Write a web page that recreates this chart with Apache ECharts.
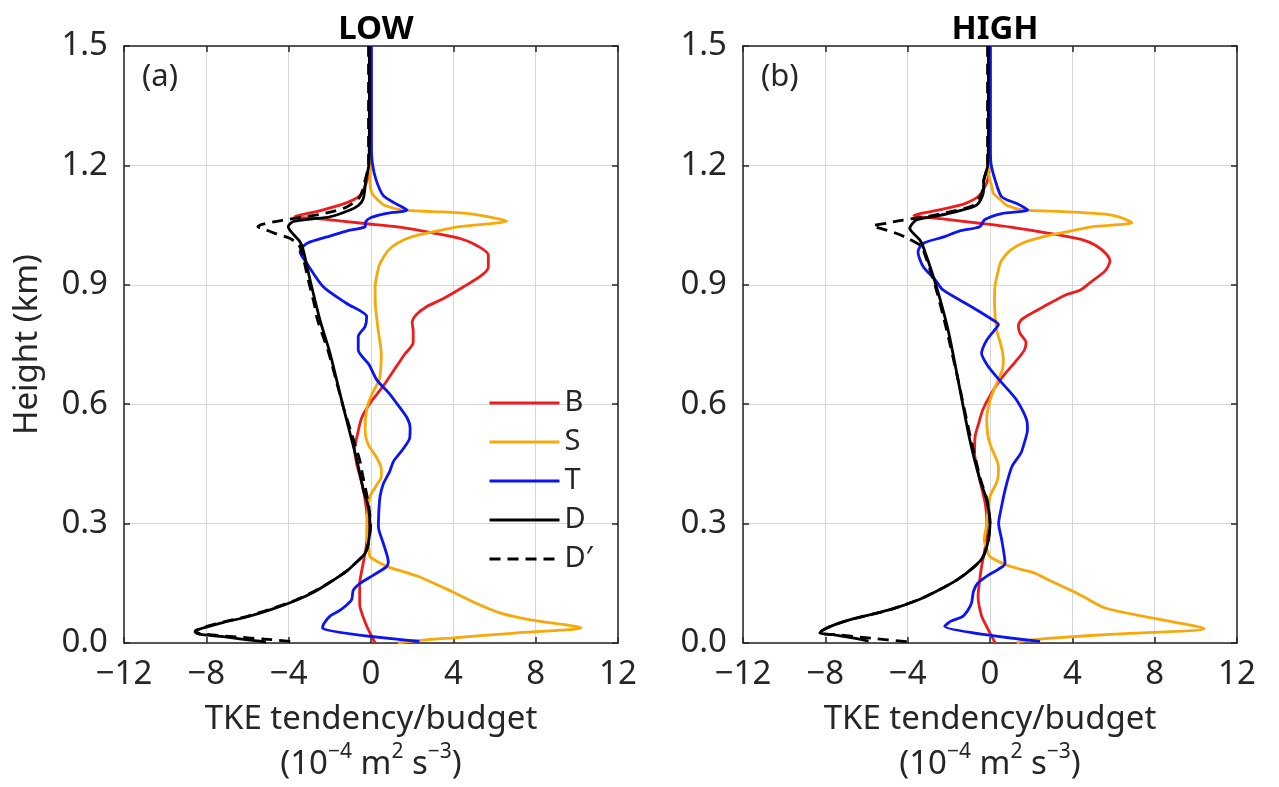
<!DOCTYPE html>
<html>
<head>
<meta charset="utf-8">
<script src="https://cdn.jsdelivr.net/npm/echarts@6/dist/echarts.min.js"></script>
<style>html,body{margin:0;padding:0;background:#fff;}#c{width:1279px;height:787px;}</style>
</head>
<body>
<div id="c"></div>
<script>
// ---------- DATA (heights in km, values in 1e-4 m2 s-3) ----------
const panelTitles = ['LOW', 'HIGH'];
const panelLabels = ['(a)', '(b)'];
const seriesNames = ['B', 'S', 'T', 'D', 'D\u2032'];
const xTicks = [-12, -8, -4, 0, 4, 8, 12];
const yTicks = [0.0, 0.3, 0.6, 0.9, 1.2, 1.5];

// LOW panel
const lowB_h = [1.5,1.3,1.22,1.194,1.16,1.124,1.104,1.084,1.072,1.065,1.054,1.045,1.03,1.015,0.997,0.975,0.945,0.925,0.895,0.865,0.845,0.825,0.805,0.785,0.755,0.725,0.686,0.646,0.606,0.566,0.526,0.486,0.447,0.397,0.347,0.297,0.247,0.197,0.148,0.098,0.048,0.0];
const lowB_x = [0.0,0.0,-0.02,-0.05,-0.2,-0.55,-1.3,-2.65,-3.7,-2.3,-0.3,1.38,3.05,4.4,5.2,5.7,5.7,5.4,4.5,3.5,2.7,2.2,2.0,2.05,2.05,1.63,1.12,0.6,0.0,-0.45,-0.65,-0.8,-0.68,-0.42,-0.25,-0.17,-0.22,-0.39,-0.55,-0.55,-0.25,0.2];

const lowS_h = [1.5,1.25,1.2,1.163,1.13,1.11,1.1,1.088,1.084,1.08,1.072,1.06,1.046,1.035,1.021,1.005,0.987,0.96,0.946,0.895,0.845,0.786,0.725,0.694,0.661,0.626,0.59,0.535,0.5,0.468,0.437,0.418,0.395,0.368,0.32,0.267,0.237,0.217,0.205,0.19,0.167,0.13,0.1,0.075,0.058,0.038,0.025,0.013,0.005,0.0];
const lowS_x = [0.0,0.0,-0.02,-0.05,0.05,0.4,0.65,1.5,3.0,4.5,5.6,6.6,4.3,3.2,2.0,1.3,0.85,0.5,0.38,0.2,0.22,0.35,0.5,0.48,0.4,0.05,-0.2,-0.29,-0.15,0.25,0.5,0.5,0.25,-0.05,-0.18,-0.21,-0.1,-0.05,0.3,0.9,2.3,3.9,5.1,6.3,7.75,10.2,7.0,4.0,2.0,1.3];

const lowT_h = [1.5,1.25,1.204,1.163,1.124,1.104,1.088,1.079,1.069,1.059,1.046,1.035,1.025,1.004,0.983,0.954,0.895,0.853,0.82,0.795,0.77,0.736,0.7,0.661,0.626,0.602,0.566,0.54,0.515,0.486,0.457,0.43,0.4,0.368,0.33,0.292,0.25,0.204,0.192,0.17,0.15,0.133,0.108,0.083,0.068,0.048,0.037,0.004];
const lowT_x = [0.02,0.02,0.07,0.25,0.6,1.2,1.75,0.7,0.0,-0.25,-0.29,-1.2,-1.83,-3.12,-3.45,-3.12,-2.32,-1.18,-0.21,-0.29,-0.62,-0.62,-0.1,0.28,0.9,1.25,1.75,1.9,1.88,1.54,1.1,0.9,0.6,0.44,0.38,0.36,0.6,0.84,0.76,0.1,-0.53,-0.86,-0.95,-1.48,-1.98,-2.3,-2.35,2.35];

const lowD_h = [1.5,1.3,1.204,1.163,1.117,1.1,1.088,1.071,1.065,1.059,1.046,1.008,0.987,0.912,0.812,0.728,0.661,0.594,0.527,0.46,0.384,0.342,0.292,0.25,0.225,0.204,0.18,0.158,0.13,0.108,0.085,0.066,0.05,0.04,0.032,0.026,0.021,0.015,0.008,0.003];
const lowD_x = [-0.08,-0.08,-0.1,-0.25,-0.37,-0.6,-1.02,-1.99,-2.96,-3.78,-4.02,-3.45,-3.29,-2.96,-2.48,-1.99,-1.67,-1.35,-1.02,-0.69,-0.37,-0.13,-0.05,-0.13,-0.29,-0.69,-1.2,-1.83,-2.7,-3.6,-4.8,-6.0,-7.3,-8.0,-8.45,-8.5,-8.2,-7.0,-6.0,-5.1];

const lowDp_h = [1.5,1.3,1.204,1.16,1.12,1.095,1.08,1.07,1.062,1.052,1.046,1.038,1.03,1.018,1.005,0.99,0.912,0.85,0.812,0.728,0.661,0.594,0.527,0.46,0.42,0.384,0.342,0.292,0.25,0.225,0.204,0.18,0.158,0.13,0.108,0.085,0.066,0.05,0.04,0.032,0.027,0.022,0.015,0.01,0.004];
const lowDp_x = [-0.12,-0.12,-0.12,-0.3,-0.55,-1.2,-2.2,-3.3,-4.3,-5.3,-5.5,-5.1,-4.7,-4.0,-3.6,-3.4,-3.05,-2.75,-2.6,-2.05,-1.7,-1.35,-0.95,-0.55,-0.4,-0.25,-0.1,-0.02,-0.13,-0.29,-0.69,-1.2,-1.83,-2.75,-3.65,-4.9,-6.1,-7.4,-8.1,-8.5,-8.55,-8.0,-6.5,-5.2,-3.9];

// HIGH panel
const highB_h = [1.5,1.3,1.22,1.164,1.126,1.104,1.089,1.074,1.066,1.054,1.045,1.03,1.013,1.0,0.98,0.96,0.935,0.905,0.887,0.875,0.845,0.825,0.811,0.795,0.778,0.755,0.736,0.706,0.666,0.626,0.586,0.552,0.52,0.477,0.44,0.397,0.347,0.3,0.267,0.227,0.192,0.15,0.118,0.068,0.041,0.02,0.0];
const highB_x = [0.0,0.0,-0.02,-0.11,-0.49,-1.22,-2.4,-3.7,-2.4,-0.4,1.0,2.8,4.5,5.1,5.6,5.83,5.59,4.85,4.4,3.7,2.6,1.9,1.5,1.38,1.46,1.75,1.67,1.22,0.57,0.05,-0.35,-0.55,-0.72,-0.75,-0.62,-0.44,-0.22,-0.15,-0.16,-0.28,-0.41,-0.52,-0.58,-0.41,-0.16,0.05,0.25];

const highS_h = [1.5,1.25,1.204,1.184,1.144,1.13,1.114,1.1,1.088,1.084,1.078,1.07,1.056,1.046,1.035,1.021,1.005,0.987,0.96,0.946,0.895,0.85,0.786,0.745,0.711,0.686,0.661,0.61,0.56,0.52,0.493,0.443,0.42,0.401,0.368,0.33,0.292,0.259,0.235,0.217,0.196,0.185,0.175,0.157,0.128,0.116,0.088,0.063,0.036,0.023,0.013,0.005,0.0];
const highS_x = [0.0,0.0,0.0,-0.08,0.1,0.16,0.5,0.8,1.62,3.5,5.5,6.3,6.89,5.0,3.9,2.6,1.6,1.0,0.55,0.45,0.24,0.22,0.33,0.55,0.65,0.6,0.4,0.0,-0.16,-0.1,0.05,0.41,0.4,0.3,0.0,-0.1,-0.18,-0.28,-0.15,0.0,0.8,1.5,2.2,2.9,4.1,4.55,5.6,7.86,10.4,6.24,3.16,1.6,1.3];

const highT_h = [1.5,1.25,1.204,1.163,1.121,1.104,1.088,1.079,1.064,1.046,1.035,1.021,1.004,0.983,0.946,0.915,0.887,0.845,0.811,0.8,0.785,0.761,0.728,0.696,0.661,0.61,0.556,0.535,0.5,0.477,0.447,0.426,0.384,0.34,0.3,0.259,0.2,0.185,0.17,0.15,0.13,0.1,0.08,0.066,0.055,0.042,0.004];
const highT_x = [0.02,0.02,0.05,0.25,0.57,1.3,1.83,0.57,-0.25,-0.5,-1.5,-2.2,-3.25,-3.5,-3.25,-2.7,-2.28,-0.9,0.16,0.41,0.2,-0.16,-0.41,-0.1,0.45,1.3,1.8,1.82,1.65,1.5,1.1,0.95,0.73,0.55,0.42,0.57,0.73,0.4,-0.1,-0.6,-0.8,-0.9,-1.1,-1.35,-1.9,-2.2,2.43];

const highD_h = [1.5,1.3,1.204,1.163,1.13,1.1,1.084,1.071,1.063,1.042,1.013,0.996,0.895,0.785,0.661,0.51,0.41,0.359,0.3,0.259,0.217,0.19,0.158,0.13,0.108,0.083,0.06,0.045,0.033,0.025,0.02,0.012,0.005];
const highD_x = [-0.08,-0.08,-0.1,-0.3,-0.33,-0.65,-1.62,-2.77,-3.58,-3.9,-3.41,-3.25,-2.6,-2.03,-1.55,-0.98,-0.49,-0.16,0.0,-0.08,-0.33,-0.8,-1.62,-2.6,-3.5,-4.9,-6.7,-7.6,-8.1,-8.27,-7.5,-6.6,-5.9];

const highDp_h = [1.5,1.3,1.204,1.163,1.13,1.1,1.085,1.072,1.062,1.055,1.048,1.04,1.03,1.017,1.0,0.996,0.895,0.785,0.661,0.51,0.41,0.359,0.3,0.259,0.217,0.19,0.158,0.13,0.108,0.083,0.06,0.045,0.033,0.025,0.02,0.012,0.003];
const highDp_x = [-0.12,-0.12,-0.12,-0.3,-0.4,-0.8,-1.8,-3.0,-4.3,-5.0,-5.7,-5.2,-4.6,-4.0,-3.4,-3.3,-2.65,-2.1,-1.55,-0.92,-0.45,-0.14,0.0,-0.08,-0.33,-0.8,-1.62,-2.6,-3.5,-4.9,-6.7,-7.6,-8.1,-8.3,-7.3,-5.8,-4.0];

// ---------- STYLE ----------
const FONT = 'Noto Sans';
const TXT = '#262626';
const colors = {B:'#ee1c1c', S:'#f7a80a', T:'#0b14f5', D:'#000000', 'D\u2032':'#000000'};

function pairs(h, x){ return x.map((v,i)=>[v, h[i]]); }
const panels = [
  {B:pairs(lowB_h,lowB_x), S:pairs(lowS_h,lowS_x), T:pairs(lowT_h,lowT_x), D:pairs(lowD_h,lowD_x), 'D\u2032':pairs(lowDp_h,lowDp_x)},
  {B:pairs(highB_h,highB_x), S:pairs(highS_h,highS_x), T:pairs(highT_h,highT_x), D:pairs(highD_h,highD_x), 'D\u2032':pairs(highDp_h,highDp_x)}
];

const gridL = [124, 743];
const grids = gridL.map(l => ({left:l, top:46, width:494, height:597, containLabel:false, outerBoundsMode:'none'}));
const xFmt = v => v < 0 ? '\u2212' + Math.abs(v) : String(v);
const yFmt = v => v.toFixed(1);
const FS = 33;

const xAxes = [], yAxes = [], series = [];
gridL.forEach((l, gi) => {
  xAxes.push({
    gridIndex: gi, type:'value', min:xTicks[0], max:xTicks[xTicks.length-1], interval:4, position:'bottom',
    axisLine:{show:true, onZero:false, lineStyle:{color:TXT, width:1.5}},
    axisTick:{show:true, inside:true, length:6, lineStyle:{color:TXT, width:1.5}},
    axisLabel:{fontFamily:FONT, fontSize:FS, color:TXT, margin:15, formatter:xFmt},
    splitLine:{show:true, lineStyle:{color:'#d6d6d6', width:1}},
    name:'{t|TKE tendency/budget}\n{t|(10}{s|\u22124}{t| m}{s|2}{t| s}{s|\u22123}{t|)}',
    nameLocation:'middle', nameGap:54,
    nameTextStyle:{fontFamily:FONT, fontSize:FS, color:TXT, lineHeight:45,
      rich:{t:{fontFamily:FONT, fontSize:FS, color:TXT, lineHeight:45},
            s:{fontFamily:FONT, fontSize:21, color:TXT, lineHeight:24, verticalAlign:'top'}}}
  });
  xAxes.push({
    gridIndex: gi, type:'value', min:xTicks[0], max:xTicks[xTicks.length-1], interval:4, position:'top',
    axisLine:{show:true, onZero:false, lineStyle:{color:TXT, width:1.5}},
    axisTick:{show:true, inside:true, length:6, lineStyle:{color:TXT, width:1.5}},
    axisLabel:{show:false}, splitLine:{show:false}
  });
  const yMain = {
    gridIndex: gi, type:'value', min:yTicks[0], max:yTicks[yTicks.length-1], interval:0.3, position:'left',
    axisLine:{show:true, onZero:false, lineStyle:{color:TXT, width:1.5}},
    axisTick:{show:true, inside:true, length:6, lineStyle:{color:TXT, width:1.5}},
    axisLabel:{fontFamily:FONT, fontSize:FS, color:TXT, margin:16, formatter:yFmt},
    splitLine:{show:true, lineStyle:{color:'#d6d6d6', width:1}}
  };
  if (gi === 0) {
    yMain.name = 'Height (km)';
    yMain.nameLocation = 'middle';
    yMain.nameGap = 80;
    yMain.nameTextStyle = {fontFamily:FONT, fontSize:FS, color:TXT};
  }
  yAxes.push(yMain);
  yAxes.push({
    gridIndex: gi, type:'value', min:yTicks[0], max:yTicks[yTicks.length-1], interval:0.3, position:'right',
    axisLine:{show:true, onZero:false, lineStyle:{color:TXT, width:1.5}},
    axisTick:{show:true, inside:true, length:6, lineStyle:{color:TXT, width:1.5}},
    axisLabel:{show:false}, splitLine:{show:false}
  });
  seriesNames.forEach(n => {
    series.push({
      name:n, type:'line', xAxisIndex: gi*2, yAxisIndex: gi*2,
      data: panels[gi][n], showSymbol:false, symbol:'none', smooth:0.25,
      clip:true, animation:false,
      lineStyle:{color:colors[n], width:2.8, type: n === 'D\u2032' ? [11,7] : 'solid'},
      itemStyle:{color:colors[n]}
    });
  });
});

const chart = echarts.init(document.getElementById('c'), null, {renderer:'canvas'});
chart.setOption({
  backgroundColor:'#ffffff',
  animation:false,
  title: [
    {text:panelTitles[0], left:371, top:8, textAlign:'center', textStyle:{fontFamily:FONT, fontSize:FS, fontWeight:'bold', color:'#000'}},
    {text:panelTitles[1], left:990, top:8, textAlign:'center', textStyle:{fontFamily:FONT, fontSize:FS, fontWeight:'bold', color:'#000'}},
    {text:panelLabels[0], left:137, top:57, textStyle:{fontFamily:FONT, fontSize:31, fontWeight:'normal', color:TXT}},
    {text:panelLabels[1], left:756, top:57, textStyle:{fontFamily:FONT, fontSize:31, fontWeight:'normal', color:TXT}}
  ],
  legend: {
    data: seriesNames, orient:'vertical', left:483, top:383, itemWidth:70, itemHeight:14, itemGap:9,
    itemStyle:{opacity:0},
    lineStyle:{width:3},
    textStyle:{fontFamily:FONT, fontSize:29, color:TXT, lineHeight:30, padding:[0,0,0,0]},
    selectedMode:false
  },
  grid: grids,
  xAxis: xAxes,
  yAxis: yAxes,
  series: series
});
</script>
</body>
</html>
